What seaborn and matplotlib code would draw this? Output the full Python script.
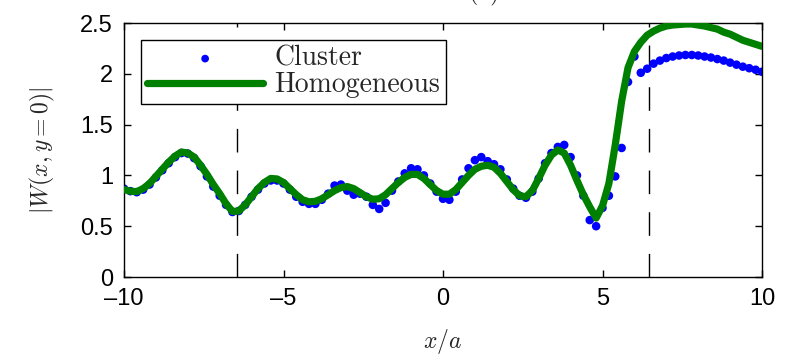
import numpy as np
import pandas as pd
import seaborn as sns
import matplotlib
matplotlib.use("Agg")
import matplotlib.pyplot as plt

# sample positions x/a
x_pos = np.linspace(-10, 10, 101)

homogeneous = [
    0.86, 0.845, 0.84, 0.87, 0.92, 0.99, 1.06, 1.13, 1.19, 1.23,
    1.22, 1.18, 1.10, 1.01, 0.91, 0.82, 0.72, 0.645, 0.65, 0.71,
    0.79, 0.87, 0.93, 0.97, 0.965, 0.93, 0.87, 0.81, 0.76, 0.74,
    0.745, 0.77, 0.81, 0.85, 0.88, 0.89, 0.87, 0.83, 0.79, 0.765,
    0.77, 0.81, 0.87, 0.93, 0.98, 1.01, 1.01, 0.97, 0.91, 0.85,
    0.815, 0.815, 0.86, 0.93, 1.00, 1.06, 1.09, 1.10, 1.08, 1.02,
    0.94, 0.86, 0.80, 0.79, 0.85, 0.97, 1.10, 1.20, 1.25, 1.22,
    1.10, 0.95, 0.81, 0.69, 0.58, 0.70, 0.92, 1.30, 1.73, 2.06,
    2.22, 2.31, 2.38, 2.42, 2.45, 2.47, 2.48, 2.485, 2.49, 2.49,
    2.48, 2.47, 2.455, 2.44, 2.41, 2.39, 2.36, 2.33, 2.31, 2.29,
    2.27,
]

cluster = [
    0.87, 0.845, 0.835, 0.86, 0.91, 0.98, 1.05, 1.12, 1.18, 1.22,
    1.215, 1.17, 1.09, 0.99, 0.89, 0.80, 0.71, 0.64, 0.65, 0.71,
    0.79, 0.86, 0.92, 0.95, 0.95, 0.92, 0.86, 0.79, 0.74, 0.72,
    0.72, 0.76, 0.82, 0.90, 0.91, 0.85, 0.81, 0.82, 0.79, 0.71,
    0.67, 0.73, 0.85, 0.94, 1.02, 1.07, 1.06, 1.00, 0.92, 0.84,
    0.77, 0.76, 0.84, 0.96, 1.07, 1.15, 1.18, 1.14, 1.11, 1.06,
    0.96, 0.87, 0.80, 0.78, 0.84, 0.97, 1.12, 1.22, 1.28, 1.30,
    1.18, 1.00, 0.80, 0.56, 0.50, 0.68, 0.80, 0.99, 1.27, 1.92,
    2.17, 2.01, 2.05, 2.10, 2.13, 2.155, 2.17, 2.18, 2.185, 2.185,
    2.18, 2.17, 2.16, 2.145, 2.13, 2.11, 2.09, 2.07, 2.055, 2.04,
    2.02,
]

dashed_x = [-6.45, 6.45]
x_ticks = [-10, -5, 0, 5, 10]
x_labels = ["\u201310", "\u20135", "0", "5", "10"]
y_ticks = [0, 0.5, 1, 1.5, 2, 2.5]
y_labels = ["0", "0.5", "1", "1.5", "2", "2.5"]

sns.set_theme(style="ticks")
plt.rcParams["font.family"] = ["Liberation Sans", "DejaVu Sans"]
plt.rcParams["mathtext.fontset"] = "cm"
plt.rcParams["axes.linewidth"] = 1.0
plt.rcParams["axes.edgecolor"] = "black"

fig = plt.figure(figsize=(7.92, 3.58), dpi=100)
ax = fig.add_axes([124 / 792, 1 - 277 / 358, 638 / 792, 254 / 358])

for xv in dashed_x:
    ax.axvline(xv, color="black", lw=1.0, ls=(0, (17, 13)), zorder=1)

sns.scatterplot(x=x_pos, y=cluster, ax=ax, color="#0000ff", s=38,
                edgecolor="none", label="Cluster", zorder=2)
sns.lineplot(x=x_pos, y=homogeneous, ax=ax, color="#008000", linewidth=5.2,
             label="Homogeneous", zorder=3)

ax.set_xlim(-10, 10)
ax.set_ylim(0, 2.5)
ax.set_xticks(x_ticks)
ax.set_xticklabels(x_labels)
ax.set_yticks(y_ticks)
ax.set_yticklabels(y_labels)
ax.tick_params(direction="in", top=True, right=True, length=5, width=1,
               labelsize=17, pad=8, colors="black")
for sp in ax.spines.values():
    sp.set_visible(True)
    sp.set_color("black")

ax.set_xlabel("$x/a$", fontsize=17)
ax.set_ylabel("$|W(x,y=0)|$", fontsize=17)
ax.xaxis.set_label_coords(0.5, (277 - 342) / 254)
ax.xaxis.label.set_va("center")
ax.yaxis.set_label_coords((42 - 124) / 638, 0.5)
ax.yaxis.label.set_va("center")

leg = ax.legend(loc="upper left", bbox_to_anchor=(0.027, 0.933), borderaxespad=0,
                frameon=True, fancybox=False, edgecolor="black", framealpha=1,
                prop={"family": "cmr10", "size": 20}, handlelength=4.2,
                handletextpad=0.4, borderpad=0.2, labelspacing=0.0,
                markerscale=0.9)
leg.get_frame().set_linewidth(1.0)

# panel title, cut by the top edge as in the source figure
fig.text(484 / 792, 1 + 1 / 358, "(b)", ha="center", va="baseline",
         fontsize=17, family="cmr10")

fig.savefig("out.png", dpi=100)
